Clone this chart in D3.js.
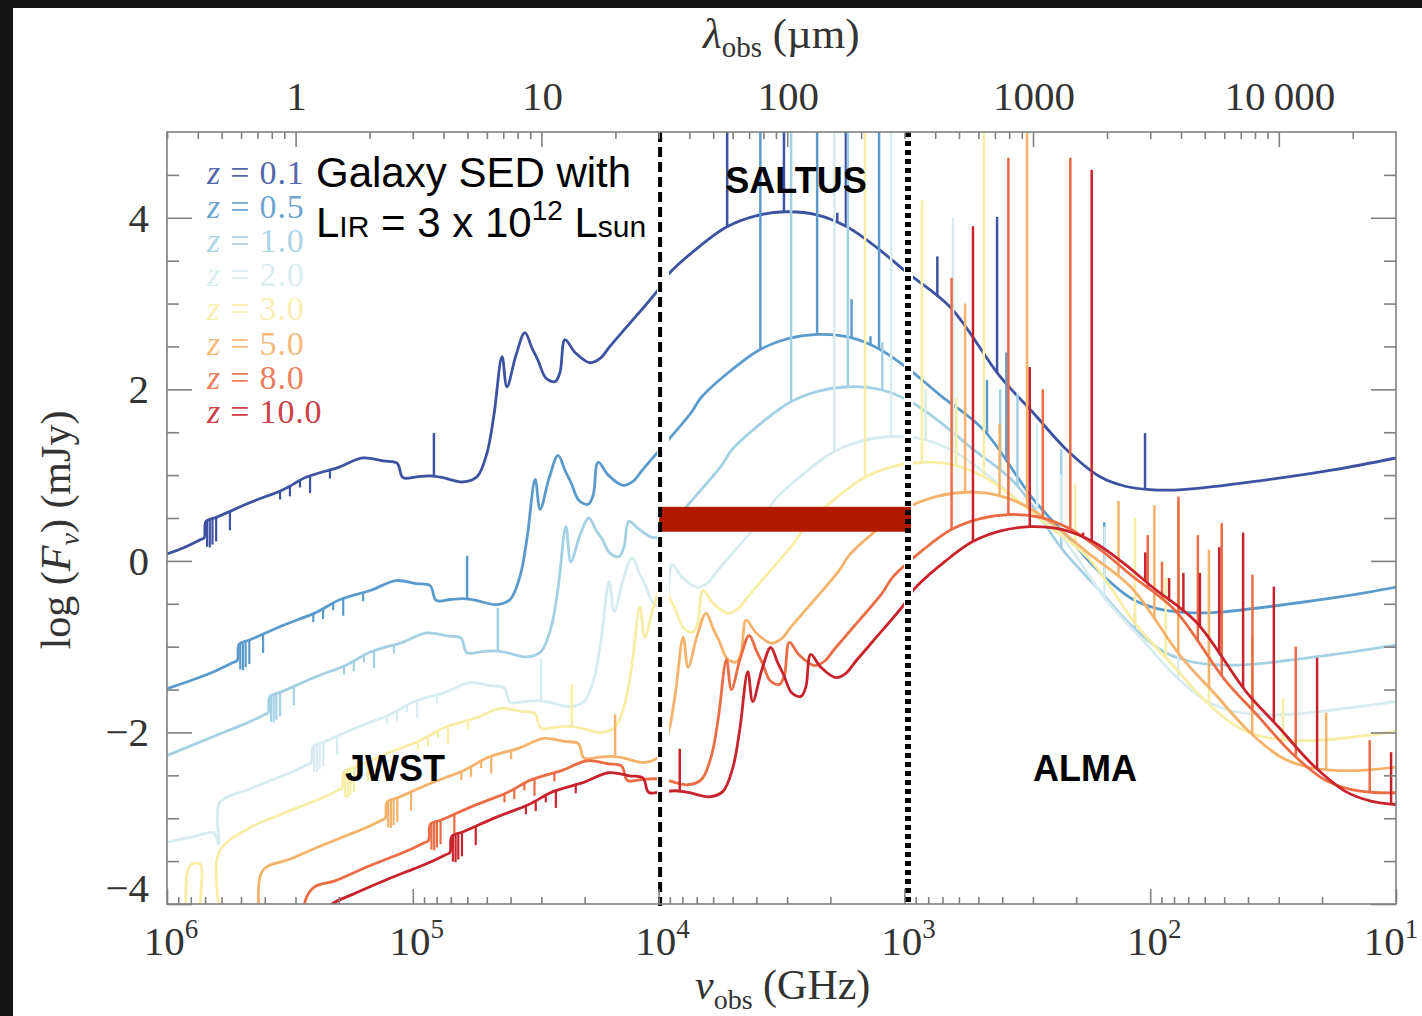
<!DOCTYPE html>
<html>
<head>
<meta charset="utf-8">
<script src="https://cdn.jsdelivr.net/npm/d3@7"></script>
<style>
  html, body { margin: 0; padding: 0; background: #fff; }
  svg { display: block; }
  text { white-space: pre; }
</style>
</head>
<body>
<svg id="chart" width="1422" height="1016"></svg>
<script>
// ---------------------------------------------------------------------------
// Galaxy SED (L_IR = 3e12 Lsun) at several redshifts.
// Each series: [log10(nu_obs / GHz), log10(F_nu / mJy)], ordered high -> low nu.
// ---------------------------------------------------------------------------
const redshifts = ["0.1", "0.5", "1.0", "2.0", "3.0", "5.0", "8.0", "10.0"];

const sedZ01 = [[6.00,0.08],[5.935,0.15],[5.866,0.245],[5.849,0.27],[5.841,0.46],[5.797,0.51],[5.662,0.68],[5.528,0.83],[5.430,0.98],[5.308,1.085],[5.203,1.20],[5.121,1.165],[5.064,1.14],[5.040,0.97],[4.983,0.98],[4.930,0.99],[4.877,0.97],[4.796,0.92],[4.739,0.98],[4.698,1.26],[4.670,1.70],[4.637,2.38],[4.617,2.03],[4.580,2.40],[4.544,2.66],[4.515,2.48],[4.491,2.34],[4.458,2.13],[4.421,2.09],[4.401,2.20],[4.381,2.58],[4.340,2.43],[4.279,2.31],[4.238,2.36],[4.198,2.50],[4.129,2.73],[4.002,3.16],[3.962,3.335],[3.832,3.67],[3.722,3.895],[3.608,4.02],[3.486,4.07],[3.356,4.035],[3.234,3.895],[3.111,3.65],[2.989,3.36],[2.814,2.96],[2.611,2.15],[2.477,1.73],[2.338,1.29],[2.204,0.98],[2.102,0.87],[2.001,0.83],[1.867,0.83],[1.525,0.945],[1.256,1.06],[1.000,1.20]];

const sedZ05 = [[6.00,-1.49],[5.861,-1.35],[5.800,-1.28],[5.731,-1.185],[5.714,-1.16],[5.706,-0.97],[5.662,-0.92],[5.527,-0.75],[5.393,-0.60],[5.295,-0.45],[5.173,-0.345],[5.068,-0.23],[4.986,-0.265],[4.929,-0.29],[4.905,-0.46],[4.848,-0.45],[4.795,-0.44],[4.742,-0.46],[4.661,-0.51],[4.604,-0.45],[4.563,-0.17],[4.535,0.27],[4.502,0.95],[4.482,0.60],[4.445,0.97],[4.409,1.23],[4.380,1.05],[4.356,0.91],[4.323,0.70],[4.286,0.66],[4.266,0.77],[4.246,1.15],[4.205,1.00],[4.144,0.88],[4.103,0.93],[4.063,1.07],[3.994,1.30],[3.867,1.73],[3.827,1.905],[3.697,2.24],[3.587,2.465],[3.473,2.59],[3.351,2.64],[3.221,2.605],[3.099,2.465],[2.976,2.22],[2.854,1.93],[2.679,1.53],[2.476,0.72],[2.342,0.30],[2.203,-0.14],[2.069,-0.45],[1.967,-0.56],[1.866,-0.60],[1.732,-0.60],[1.390,-0.485],[1.121,-0.37],[0.865,-0.23]];

const sedZ1 = [[6.00,-2.27],[5.736,-1.96],[5.675,-1.89],[5.606,-1.795],[5.589,-1.77],[5.581,-1.58],[5.537,-1.53],[5.402,-1.36],[5.268,-1.21],[5.170,-1.06],[5.048,-0.955],[4.943,-0.84],[4.861,-0.875],[4.804,-0.90],[4.780,-1.07],[4.723,-1.06],[4.670,-1.05],[4.617,-1.07],[4.536,-1.12],[4.479,-1.06],[4.438,-0.78],[4.410,-0.34],[4.377,0.40],[4.357,-0.01],[4.320,0.30],[4.284,0.50],[4.255,0.36],[4.231,0.26],[4.198,0.09],[4.161,0.05],[4.141,0.16],[4.121,0.46],[4.080,0.37],[4.019,0.27],[3.978,0.32],[3.938,0.46],[3.869,0.69],[3.742,1.12],[3.702,1.295],[3.572,1.63],[3.462,1.855],[3.348,1.98],[3.226,2.03],[3.096,1.995],[2.974,1.855],[2.851,1.61],[2.729,1.32],[2.554,0.92],[2.351,0.11],[2.217,-0.31],[2.078,-0.75],[1.944,-1.06],[1.842,-1.17],[1.741,-1.21],[1.607,-1.21],[1.265,-1.095],[0.996,-0.98]];

const sedZ2 = [[6.00,-3.28],[5.90,-3.22],[5.81,-3.17],[5.790,-3.30],[5.786,-2.82],[5.674,-2.67],[5.560,-2.54],[5.499,-2.47],[5.430,-2.375],[5.413,-2.35],[5.405,-2.16],[5.361,-2.11],[5.226,-1.94],[5.092,-1.79],[4.994,-1.64],[4.872,-1.535],[4.767,-1.42],[4.685,-1.455],[4.628,-1.48],[4.604,-1.65],[4.547,-1.64],[4.494,-1.63],[4.441,-1.65],[4.360,-1.70],[4.303,-1.64],[4.262,-1.36],[4.234,-0.92],[4.201,-0.24],[4.181,-0.59],[4.144,-0.22],[4.108,0.04],[4.079,-0.14],[4.055,-0.28],[4.022,-0.49],[3.985,-0.53],[3.965,-0.42],[3.945,-0.04],[3.904,-0.19],[3.843,-0.31],[3.802,-0.26],[3.762,-0.12],[3.693,0.11],[3.566,0.54],[3.526,0.715],[3.396,1.05],[3.286,1.275],[3.172,1.40],[3.050,1.45],[2.920,1.415],[2.798,1.275],[2.675,1.03],[2.553,0.74],[2.378,0.34],[2.175,-0.47],[2.041,-0.89],[1.902,-1.33],[1.768,-1.64],[1.666,-1.75],[1.565,-1.79],[1.431,-1.79],[1.089,-1.675],[0.820,-1.56]];

const sedZ3 = [[5.918,-4.40],[5.912,-3.58],[5.880,-3.52],[5.862,-3.55],[5.857,-4.40],[5.795,-4.40],[5.789,-3.40],[5.669,-3.12],[5.549,-2.97],[5.435,-2.84],[5.374,-2.77],[5.305,-2.675],[5.288,-2.65],[5.280,-2.46],[5.236,-2.41],[5.101,-2.24],[4.967,-2.09],[4.869,-1.94],[4.747,-1.835],[4.642,-1.72],[4.560,-1.755],[4.503,-1.78],[4.479,-1.95],[4.422,-1.94],[4.369,-1.93],[4.316,-1.95],[4.235,-2.00],[4.178,-1.94],[4.137,-1.66],[4.109,-1.22],[4.076,-0.54],[4.056,-0.89],[4.019,-0.52],[3.983,-0.26],[3.954,-0.44],[3.930,-0.58],[3.897,-0.79],[3.860,-0.83],[3.840,-0.72],[3.820,-0.34],[3.779,-0.49],[3.718,-0.61],[3.677,-0.56],[3.637,-0.42],[3.568,-0.19],[3.441,0.24],[3.401,0.415],[3.271,0.75],[3.161,0.975],[3.047,1.10],[2.925,1.15],[2.795,1.115],[2.673,0.975],[2.550,0.73],[2.428,0.44],[2.253,0.04],[2.050,-0.77],[1.916,-1.19],[1.777,-1.63],[1.643,-1.94],[1.541,-2.05],[1.440,-2.09],[1.306,-2.09],[0.964,-1.975]];

const sedZ5 = [[5.740,-4.40],[5.735,-4.12],[5.660,-4.08],[5.620,-4.13],[5.616,-4.40],[5.613,-3.62],[5.493,-3.47],[5.373,-3.32],[5.259,-3.19],[5.198,-3.12],[5.129,-3.025],[5.112,-3.00],[5.104,-2.81],[5.060,-2.76],[4.925,-2.59],[4.791,-2.44],[4.693,-2.29],[4.571,-2.185],[4.466,-2.07],[4.384,-2.105],[4.327,-2.13],[4.303,-2.30],[4.246,-2.29],[4.193,-2.28],[4.140,-2.30],[4.059,-2.35],[4.002,-2.29],[3.961,-2.01],[3.933,-1.57],[3.900,-0.89],[3.880,-1.24],[3.843,-0.87],[3.807,-0.61],[3.778,-0.79],[3.754,-0.93],[3.721,-1.14],[3.684,-1.18],[3.664,-1.07],[3.644,-0.69],[3.603,-0.84],[3.542,-0.96],[3.501,-0.91],[3.461,-0.77],[3.392,-0.54],[3.265,-0.11],[3.225,0.065],[3.095,0.40],[2.985,0.625],[2.871,0.75],[2.749,0.80],[2.619,0.765],[2.497,0.625],[2.374,0.38],[2.252,0.09],[2.077,-0.31],[1.874,-1.12],[1.740,-1.54],[1.601,-1.98],[1.467,-2.29],[1.365,-2.40],[1.264,-2.44],[1.130,-2.44],[0.788,-2.325]];

const sedZ8 = [[5.440,-4.40],[5.436,-3.95],[5.400,-3.80],[5.317,-3.73],[5.197,-3.58],[5.083,-3.45],[5.022,-3.38],[4.953,-3.285],[4.936,-3.26],[4.928,-3.07],[4.884,-3.02],[4.749,-2.85],[4.615,-2.70],[4.517,-2.55],[4.395,-2.445],[4.290,-2.33],[4.208,-2.365],[4.151,-2.39],[4.127,-2.56],[4.070,-2.55],[4.017,-2.54],[3.964,-2.56],[3.883,-2.61],[3.826,-2.55],[3.785,-2.27],[3.757,-1.83],[3.724,-1.15],[3.704,-1.50],[3.667,-1.13],[3.631,-0.87],[3.602,-1.05],[3.578,-1.19],[3.545,-1.40],[3.508,-1.44],[3.488,-1.33],[3.468,-0.95],[3.427,-1.10],[3.366,-1.22],[3.325,-1.17],[3.285,-1.03],[3.216,-0.80],[3.089,-0.37],[3.049,-0.195],[2.919,0.14],[2.809,0.365],[2.695,0.49],[2.573,0.54],[2.443,0.505],[2.321,0.365],[2.198,0.12],[2.076,-0.17],[1.901,-0.57],[1.698,-1.38],[1.564,-1.80],[1.425,-2.24],[1.291,-2.55],[1.189,-2.66],[1.088,-2.70],[0.954,-2.70]];

const sedZ10 = [[5.352,-4.40],[5.345,-4.05],[5.230,-3.87],[5.110,-3.72],[4.996,-3.59],[4.935,-3.52],[4.866,-3.425],[4.849,-3.40],[4.841,-3.21],[4.797,-3.16],[4.662,-2.99],[4.528,-2.84],[4.430,-2.69],[4.308,-2.585],[4.203,-2.47],[4.121,-2.505],[4.064,-2.53],[4.040,-2.70],[3.983,-2.69],[3.930,-2.68],[3.877,-2.70],[3.796,-2.75],[3.739,-2.69],[3.698,-2.41],[3.670,-1.97],[3.637,-1.29],[3.617,-1.64],[3.580,-1.27],[3.544,-1.01],[3.515,-1.19],[3.491,-1.33],[3.458,-1.54],[3.421,-1.58],[3.401,-1.47],[3.381,-1.09],[3.340,-1.24],[3.279,-1.36],[3.238,-1.31],[3.198,-1.17],[3.129,-0.94],[3.002,-0.51],[2.962,-0.335],[2.832,0.00],[2.722,0.225],[2.608,0.35],[2.486,0.40],[2.356,0.365],[2.234,0.225],[2.111,-0.02],[1.989,-0.31],[1.814,-0.71],[1.611,-1.52],[1.477,-1.94],[1.338,-2.38],[1.204,-2.69],[1.102,-2.80],[1.001,-2.84],[0.867,-2.84]];

// Emission lines: [log10(nu_obs / GHz), log10(F_nu) at the line peak]
const linesZ01 = [[4.914,1.49],[3.721,5.3],[3.490,5.3],[3.273,4.06],[3.238,5.3],[2.866,3.55],[2.623,4.01],[2.021,1.49]];
const linesZ05 = [[4.779,0.06],[3.586,5.3],[3.355,5.3],[3.215,3.05],[3.138,2.62],[3.103,5.3],[2.664,2.11],[2.585,2.43],[2.187,0.45],[1.886,-0.20]];
const linesZ1  = [[4.654,-0.55],[3.461,5.3],[3.230,5.3],[3.090,2.55],[2.978,3.20],[2.610,2.00],[2.540,1.95],[2.362,1.30],[2.062,-0.60],[1.761,-0.85]];
const linesZ2  = [[4.478,-1.14],[3.285,5.3],[3.054,5.3],[2.914,2.00],[2.802,4.00],[2.460,1.60],[2.363,1.00],[2.186,0.40],[1.886,-0.95],[1.585,-1.20]];
const linesZ3  = [[4.353,-1.44],[3.160,5.3],[2.929,4.20],[2.789,1.90],[2.677,5.3],[2.305,0.90],[2.062,0.50],[1.937,-0.20],[1.761,-0.10],[1.460,-1.60]];
const linesZ5  = [[4.177,-1.79],[2.984,5.3],[2.753,3.00],[2.613,1.60],[2.501,5.3],[2.129,0.70],[1.983,0.65],[1.886,0.70],[1.761,0.13],[1.585,-0.90],[1.284,-1.77]];
const linesZ8  = [[4.001,-2.05],[2.808,3.30],[2.577,4.70],[2.437,2.00],[2.325,4.70],[2.010,0.30],[1.952,-0.01],[1.885,0.75],[1.806,0.30],[1.709,0.44],[1.584,-0.16],[1.408,-1.00],[1.107,-2.09]];
const linesZ10 = [[3.914,-2.19],[2.721,3.90],[2.490,2.26],[2.273,0.33],[2.238,4.56],[2.020,0.10],[1.923,-0.20],[1.865,-0.14],[1.798,-0.14],[1.719,0.16],[1.622,0.33],[1.497,-0.30],[1.321,-1.13],[1.020,-2.23]];

// Stellar absorption features: [log10(nu_obs / GHz), depth in dex]
const absZ01 = [[5.837,0.30],[5.826,0.32],[5.815,0.30],[5.800,0.28],[5.744,0.22],[5.540,0.10],[5.500,0.12],[5.459,0.08],[5.418,0.20],[5.337,0.10]];
const absZ05 = [[5.702,0.30],[5.691,0.32],[5.680,0.30],[5.665,0.28],[5.609,0.22],[5.405,0.10],[5.365,0.12],[5.324,0.08],[5.283,0.20],[5.202,0.10]];
const absZ1  = [[5.577,0.30],[5.566,0.32],[5.555,0.30],[5.540,0.28],[5.484,0.22],[5.280,0.10],[5.240,0.12],[5.199,0.08],[5.158,0.20],[5.077,0.10]];
const absZ2  = [[5.401,0.30],[5.390,0.32],[5.379,0.30],[5.364,0.28],[5.308,0.22],[5.104,0.10],[5.064,0.12],[5.023,0.08],[4.982,0.20],[4.901,0.10]];
const absZ3  = [[5.276,0.30],[5.265,0.32],[5.254,0.30],[5.239,0.28],[5.183,0.22],[4.979,0.10],[4.939,0.12],[4.898,0.08],[4.857,0.20],[4.776,0.10]];
const absZ5  = [[5.100,0.30],[5.089,0.32],[5.078,0.30],[5.063,0.28],[5.007,0.22],[4.803,0.10],[4.763,0.12],[4.722,0.08],[4.681,0.20],[4.600,0.10]];
const absZ8  = [[4.924,0.30],[4.913,0.32],[4.902,0.30],[4.887,0.28],[4.831,0.22],[4.627,0.10],[4.587,0.12],[4.546,0.08],[4.505,0.20],[4.424,0.10]];
const absZ10 = [[4.837,0.30],[4.826,0.32],[4.815,0.30],[4.800,0.28],[4.744,0.22],[4.540,0.10],[4.500,0.12],[4.459,0.08],[4.418,0.20],[4.337,0.10]];

// Instrument coverage
const saltusBandMicron = [30.4, 310];     // λ_obs range (µm)
const saltusLimit = [0.34, 0.63];         // log F_ν band (mJy)
const instrumentNames = ["JWST", "SALTUS", "ALMA"];
const instrumentAnchor = [[5.072, -2.57], [3.441, 4.29], [2.265, -2.57]]; // [log ν, log F]

// Axis ticks
const nuExponents = [6, 5, 4, 3, 2, 1];
const lambdaTicks = [1, 10, 100, 1000, 10000];
const lambdaLabels = ["1", "10", "100", "1000", "10\u2009000"];
const fluxTicks = [4, 2, 0, -2, -4];

// Colours, low z -> high z
const palette = ["#3d52a1", "#5b9bcb", "#a3d0e4", "#d8ebf0", "#f7eea6", "#f5b26a", "#eb6c45", "#c8232c"];

// ---------------------------------------------------------------------------
const seds = [sedZ01, sedZ05, sedZ1, sedZ2, sedZ3, sedZ5, sedZ8, sedZ10];
const emis = [linesZ01, linesZ05, linesZ1, linesZ2, linesZ3, linesZ5, linesZ8, linesZ10];
const abss = [absZ01, absZ05, absZ1, absZ2, absZ3, absZ5, absZ8, absZ10];

const C_UM_GHZ = 299792.458; // λ[µm] · ν[GHz]
const W = 1422, H = 1016;
const P = { l: 167, r: 1396, t: 132, b: 904 };

const x = d3.scaleLog().domain([1e6, 10]).range([P.l, P.r]);
const xLam = d3.scaleLog().domain([C_UM_GHZ / 1e6, C_UM_GHZ / 10]).range([P.l, P.r]);
const y = d3.scaleLinear().domain([-4, 5]).range([P.b, P.t]);
const X = l => x(Math.pow(10, l));

const serif = "'Liberation Serif', 'Times New Roman', serif";
const sans = "'Liberation Sans', Arial, Helvetica, sans-serif";
const axisGrey = "#808080";

const svg = d3.select("#chart");

// dark surround at top and left
svg.append("rect").attr("x", 0).attr("y", 0).attr("width", W).attr("height", 8).attr("fill", "#151515");
svg.append("rect").attr("x", 0).attr("y", 0).attr("width", 13).attr("height", H).attr("fill", "#151515");

svg.append("defs").append("clipPath").attr("id", "plotClip")
  .append("rect").attr("x", P.l).attr("y", P.t).attr("width", P.r - P.l).attr("height", P.b - P.t);

const plot = svg.append("g").attr("clip-path", "url(#plotClip)");

function valueAt(s, l) {
  for (let i = 0; i < s.length - 1; i++) {
    const a = s[i], b = s[i + 1];
    if (l <= a[0] && l >= b[0]) {
      const t = (a[0] - l) / (a[0] - b[0]);
      return a[1] + t * (b[1] - a[1]);
    }
  }
  return s[s.length - 1][1];
}

const sedLine = d3.line()
  .x(d => X(d[0]))
  .y(d => y(d[1]))
  .curve(d3.curveCatmullRom.alpha(0.5));

seds.forEach((s, i) => {
  const g = plot.append("g").attr("class", "sed z" + redshifts[i]);
  const col = palette[i];
  // absorption features
  g.selectAll("line.abs").data(abss[i]).enter().append("line")
    .attr("class", "abs")
    .attr("x1", d => X(d[0])).attr("x2", d => X(d[0]))
    .attr("y1", d => y(valueAt(s, d[0]))).attr("y2", d => y(valueAt(s, d[0]) - d[1]))
    .attr("stroke", col).attr("stroke-width", 2.2);
  // emission lines
  g.selectAll("line.em").data(emis[i]).enter().append("line")
    .attr("class", "em")
    .attr("x1", d => X(d[0])).attr("x2", d => X(d[0]))
    .attr("y1", d => y(valueAt(s, d[0]))).attr("y2", d => y(d[1]))
    .attr("stroke", col).attr("stroke-width", 2.5);
  // continuum
  g.append("path").datum(s)
    .attr("d", sedLine)
    .attr("fill", "none")
    .attr("stroke", col)
    .attr("stroke-width", 2.8)
    .attr("stroke-linejoin", "round");
});

// SALTUS band edges
const xa = xLam(saltusBandMicron[0]);
const xb = xLam(saltusBandMicron[1]);
plot.append("rect").attr("x", xa - 3).attr("y", P.t).attr("width", 12).attr("height", P.b - P.t).attr("fill", "#fff");
plot.append("rect").attr("x", xb - 4).attr("y", P.t).attr("width", 9).attr("height", P.b - P.t).attr("fill", "#fff");

// SALTUS sensitivity bar
svg.append("rect")
  .attr("x", xa - 1).attr("y", y(saltusLimit[1]))
  .attr("width", xb - xa + 4).attr("height", y(saltusLimit[0]) - y(saltusLimit[1]))
  .attr("fill", "#b21a00");

svg.append("line").attr("x1", xa).attr("x2", xa).attr("y1", P.t).attr("y2", P.b + 2)
  .attr("stroke", "#000").attr("stroke-width", 4).attr("stroke-dasharray", "10,5");
svg.append("line").attr("x1", xb).attr("x2", xb).attr("y1", P.t).attr("y2", P.b + 2)
  .attr("stroke", "#000").attr("stroke-width", 6).attr("stroke-dasharray", "5,4");

// frame
svg.append("rect").attr("x", P.l).attr("y", P.t).attr("width", P.r - P.l).attr("height", P.b - P.t)
  .attr("fill", "none").attr("stroke", axisGrey).attr("stroke-width", 1.6);

// ticks
function ticks(axis, values, size, transform) {
  const g = svg.append("g").attr("transform", transform)
    .call(axis.tickValues(values).tickSize(size).tickFormat(""));
  g.select(".domain").remove();
  g.selectAll(".tick line").attr("stroke", axisGrey).attr("stroke-width", 1.6);
  g.selectAll(".tick text").remove();
}
const nuMajor = nuExponents.map(e => Math.pow(10, e));
const nuMinor = [];
for (let e = 1; e < 6; e++) for (let k = 2; k <= 9; k++) nuMinor.push(k * Math.pow(10, e));
const lamMinor = [];
for (let e = -1; e < 5; e++) for (let k = 2; k <= 9; k++) {
  const v = k * Math.pow(10, e);
  if (v >= C_UM_GHZ / 1e6 && v <= C_UM_GHZ / 10) lamMinor.push(v);
}
const yMinor = d3.range(-3.5, 5, 0.5).filter(v => !fluxTicks.includes(v));

ticks(d3.axisBottom(x), nuMajor, -15, `translate(0,${P.b})`);
ticks(d3.axisBottom(x), nuMinor, -7, `translate(0,${P.b})`);
ticks(d3.axisTop(xLam), lambdaTicks, -15, `translate(0,${P.t})`);
ticks(d3.axisTop(xLam), lamMinor, -7, `translate(0,${P.t})`);
ticks(d3.axisLeft(y), fluxTicks, -25, `translate(${P.l},0)`);
ticks(d3.axisLeft(y), yMinor, -12, `translate(${P.l},0)`);
ticks(d3.axisRight(y), fluxTicks, -25, `translate(${P.r},0)`);
ticks(d3.axisRight(y), yMinor, -12, `translate(${P.r},0)`);

// bottom tick labels 10^n (the last one is nudged inward so it stays on the page)
nuExponents.forEach(e => {
  const t = svg.append("text")
    .attr("x", x(Math.pow(10, e)) + (e === 1 ? -5 : 4)).attr("y", 955)
    .attr("text-anchor", "middle")
    .attr("font-family", serif).attr("font-size", 41).attr("fill", "#333");
  t.append("tspan").text("10");
  t.append("tspan").attr("font-size", 27).attr("dy", -17).text(String(e));
});

// top tick labels (µm)
lambdaTicks.forEach((v, i) => {
  svg.append("text")
    .attr("x", xLam(v) + 1).attr("y", 110)
    .attr("text-anchor", "middle")
    .attr("font-family", serif).attr("font-size", 41).attr("fill", "#333")
    .text(lambdaLabels[i]);
});

// left tick labels
fluxTicks.forEach(v => {
  svg.append("text")
    .attr("x", 149).attr("y", y(v) + 14 - (v === -4 ? 16 : 0))
    .attr("text-anchor", "end")
    .attr("font-family", serif).attr("font-size", 41).attr("fill", "#333")
    .text(v < 0 ? "\u2212" + Math.abs(v) : String(v));
});

// axis titles
{
  const t = svg.append("text").attr("x", 703).attr("y", 48)
    .attr("font-family", serif).attr("font-size", 43).attr("fill", "#333");
  t.append("tspan").attr("font-style", "italic").text("\u03bb");
  t.append("tspan").attr("font-size", 29).attr("dy", 9).text("obs");
  t.append("tspan").attr("dy", -9).text(" (\u00b5m)");
}
{
  const t = svg.append("text").attr("x", 695).attr("y", 999)
    .attr("font-family", serif).attr("font-size", 42).attr("fill", "#333");
  t.append("tspan").attr("font-style", "italic").text("\u03bd");
  t.append("tspan").attr("font-size", 28).attr("dy", 10).text("obs");
  t.append("tspan").attr("dy", -10).text(" (GHz)");
}
{
  const t = svg.append("text").attr("transform", "translate(70,530) rotate(-90)")
    .attr("text-anchor", "middle")
    .attr("font-family", serif).attr("font-size", 42).attr("fill", "#333");
  t.append("tspan").text("log (");
  t.append("tspan").attr("font-style", "italic").text("F");
  t.append("tspan").attr("font-size", 28).attr("font-style", "italic").attr("dy", 9).text("\u03bd");
  t.append("tspan").attr("dy", -9).text(") (mJy)");
}

// legend
redshifts.forEach((z, i) => {
  const t = svg.append("text").attr("x", 207).attr("y", 184 + i * 34.1)
    .attr("font-family", serif).attr("font-size", 34).attr("letter-spacing", 0.8)
    .attr("fill", palette[i]).attr("fill-opacity", 0.9);
  t.append("tspan").attr("font-style", "italic").text("z");
  t.append("tspan").text(" = " + z);
});

// description
svg.append("text").attr("x", 316).attr("y", 187)
  .attr("font-family", sans).attr("font-size", 42).attr("fill", "#000")
  .text("Galaxy SED with");
{
  const t = svg.append("text").attr("x", 316).attr("y", 237)
    .attr("font-family", sans).attr("font-size", 42).attr("fill", "#000");
  t.append("tspan").text("L");
  t.append("tspan").attr("font-size", 30).text("IR");
  t.append("tspan").text(" = 3 x 10");
  t.append("tspan").attr("font-size", 28).attr("dy", -17).text("12");
  t.append("tspan").attr("dy", 17).text(" L");
  t.append("tspan").attr("font-size", 30).text("sun");
}

// instrument labels
instrumentNames.forEach((n, i) => {
  svg.append("text")
    .attr("x", X(instrumentAnchor[i][0])).attr("y", y(instrumentAnchor[i][1]))
    .attr("text-anchor", "middle")
    .attr("font-family", sans).attr("font-weight", "bold").attr("font-size", 36)
    .attr("fill", "#000")
    .text(n);
});
</script>
</body>
</html>
